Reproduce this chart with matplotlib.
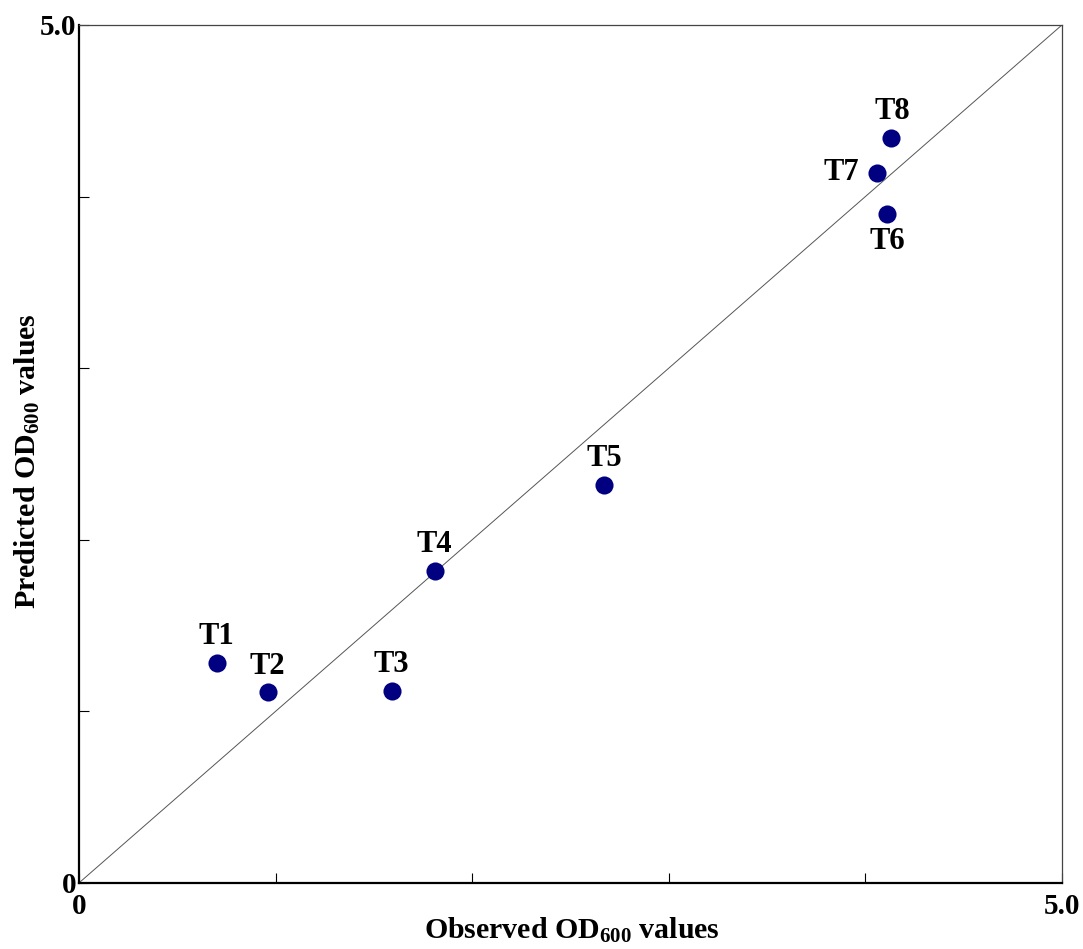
import matplotlib
matplotlib.use('Agg')
import matplotlib.pyplot as plt

# observed vs predicted OD600 per treatment
labels = ['T1', 'T2', 'T3', 'T4', 'T5', 'T6', 'T7', 'T8']
observed = [0.70, 0.96, 1.59, 1.81, 2.67, 4.11, 4.06, 4.13]
predicted = [1.28, 1.11, 1.12, 1.82, 2.32, 3.90, 4.14, 4.34]

# label offsets in points (T6 below, T7 to the left)
offsets = {'T6': (0, -20), 'T7': (-26, 0), 'T8': (1, 19)}

plt.rcParams['font.family'] = 'Liberation Serif'
plt.rcParams['font.weight'] = 'bold'
plt.rcParams['mathtext.fontset'] = 'custom'
plt.rcParams['mathtext.rm'] = 'Liberation Serif:bold'
plt.rcParams['mathtext.it'] = 'Liberation Serif:bold'
plt.rcParams['mathtext.bf'] = 'Liberation Serif:bold'

fig = plt.figure(figsize=(10.83, 9.49), dpi=100)
ax = fig.add_axes([0.0729, 0.0696, 0.9077, 0.9041])

ax.plot([0, 5], [0, 5], color='#555555', linewidth=0.7, zorder=1)
ax.scatter(observed, predicted, s=170, color='#000080', zorder=3, linewidths=0)

for name, x, y in zip(labels, observed, predicted):
    dx, dy = offsets.get(name, (0, 19))
    ax.annotate(name, xy=(x, y), xytext=(dx, dy), textcoords='offset points',
                ha='center', va='center', fontsize=22, fontweight='bold')

ax.set_xlim(0, 5)
ax.set_ylim(0, 5)
ax.set_xticks([0, 1, 2, 3, 4, 5])
ax.set_yticks([0, 1, 2, 3, 4, 5])
ax.set_xticklabels(['0', '', '', '', '', '5.0'])
ax.set_yticklabels(['0', '', '', '', '', '5.0'])
ax.tick_params(direction='in', length=7, width=0.8, labelsize=21)
ax.tick_params(axis='x', pad=7)
ax.tick_params(axis='y', pad=2)

for side in ['left', 'bottom']:
    ax.spines[side].set_linewidth(1.6)
    ax.spines[side].set_color('black')
for side in ['top', 'right']:
    ax.spines[side].set_linewidth(0.9)
    ax.spines[side].set_color('#444444')

ax.set_xlabel('Observed OD$_{600}$ values', fontsize=21.5, fontweight='bold')
ax.set_ylabel('Predicted OD$_{600}$ values', fontsize=21.5, fontweight='bold')
ax.xaxis.set_label_coords(0.5015, -0.055)
ax.yaxis.set_label_coords(-0.052, 0.492)
ax.xaxis.label.set_va('center')
ax.yaxis.label.set_va('center')

plt.savefig('out.png', dpi=100)
plt.close()
